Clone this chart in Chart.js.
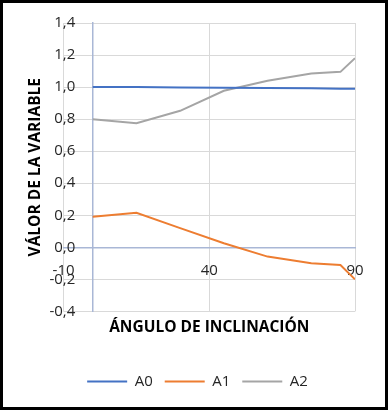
<!DOCTYPE html>
<html>
<head>
<meta charset="utf-8">
<script src="https://cdn.jsdelivr.net/npm/chart.js@4.4.0/dist/chart.umd.min.js"></script>
<style>
    html, body { margin: 0; padding: 0; background: #fff; }
    #frame {
        width: 388px;
        height: 410px;
        box-sizing: border-box;
        border: 3px solid #000;
        position: relative;
    }
</style>
</head>
<body>
<div id="frame"><canvas id="angleChart"></canvas></div>
<script>
// angle (x) values and the three series
const angles = [0, 15, 30, 45, 60, 75, 85, 90];
const a0 = [1.0, 1.0, 0.998, 0.996, 0.994, 0.992, 0.99, 0.989];
const a1 = [0.19, 0.215, 0.12, 0.025, -0.058, -0.10, -0.11, -0.20];
const a2 = [0.80, 0.775, 0.852, 0.977, 1.04, 1.085, 1.095, 1.18];

const xTicks = [-10, 40, 90];
const yTicks = [-0.4, -0.2, 0, 0.2, 0.4, 0.6, 0.8, 1.0, 1.2, 1.4];

const seriesNames = ['A0', 'A1', 'A2'];
const seriesColors = ['#4472C4', '#ED7D31', '#A5A5A5'];

function toPoints(values) {
    return angles.map((x, i) => ({ x: x, y: values[i] }));
}

function formatComma(v) {
    if (Math.abs(v) < 1e-9) v = 0;
    return v.toFixed(1).replace('.', ',');
}

const axisLine = '#A9B7D6';
const gridLine = '#D9D9D9';
const tickFont = { family: 'Open Sans', size: 15 };
const titleFont = { family: 'Open Sans', size: 15.5, weight: 'bold' };

const canvas = document.getElementById('angleChart');

new Chart(canvas, {
    type: 'line',
    data: {
        datasets: [a0, a1, a2].map((values, i) => ({
            label: seriesNames[i],
            data: toPoints(values),
            borderColor: seriesColors[i],
            backgroundColor: seriesColors[i],
            borderWidth: 2,
            pointRadius: 0,
            tension: 0,
            fill: false
        }))
    },
    options: {
        responsive: true,
        maintainAspectRatio: false,
        animation: false,
        layout: {
            padding: { left: 7, top: 20, right: 0, bottom: 8 }
        },
        scales: {
            x: {
                type: 'linear',
                position: { y: 0 },
                min: -10,
                max: 90,
                afterBuildTicks: (scale) => {
                    scale.ticks = xTicks.map(v => ({ value: v }));
                },
                grid: { color: gridLine, drawTicks: false },
                border: { color: axisLine, width: 1.5 },
                ticks: {
                    font: tickFont,
                    color: '#262626',
                    padding: 14,
                    maxRotation: 0
                }
            },
            // vertical axis line at x = 0 with the horizontal gridlines
            y: {
                type: 'linear',
                position: { x: 0 },
                min: -0.4,
                max: 1.4,
                afterBuildTicks: (scale) => {
                    scale.ticks = yTicks.map(v => ({ value: v }));
                },
                grid: { color: gridLine, drawTicks: false },
                border: { color: axisLine, width: 1.5 },
                ticks: { display: false, padding: 0 }
            },
            // tick labels sit a little left of the x = 0 axis, as in Excel
            yLabels: {
                type: 'linear',
                axis: 'y',
                position: { x: -6 },
                min: -0.4,
                max: 1.4,
                afterBuildTicks: (scale) => {
                    scale.ticks = yTicks.map(v => ({ value: v }));
                },
                grid: { display: false },
                border: { display: false },
                ticks: {
                    font: tickFont,
                    color: '#262626',
                    padding: 0,
                    callback: (v) => formatComma(v)
                }
            },
            // empty right gutter
            gutter: {
                type: 'linear',
                axis: 'y',
                position: 'right',
                grid: { display: false },
                border: { display: false },
                ticks: { display: false },
                afterFit: (scale) => {
                    scale.width = 30;
                }
            }
        },
        plugins: {
            title: {
                display: true,
                position: 'left',
                fullSize: false,
                text: 'VÁLOR DE LA VARIABLE',
                color: '#000',
                font: titleFont,
                padding: { top: 16, bottom: 19 }
            },
            subtitle: {
                display: true,
                position: 'bottom',
                fullSize: false,
                text: 'ÁNGULO DE INCLINACIÓN',
                color: '#000',
                font: titleFont,
                padding: { top: 7, bottom: 25 }
            },
            legend: {
                position: 'bottom',
                weight: 3000,
                labels: {
                    usePointStyle: true,
                    pointStyle: 'line',
                    pointStyleWidth: 40,
                    boxHeight: 15,
                    padding: 12,
                    color: '#262626',
                    font: tickFont
                }
            },
            tooltip: { enabled: false }
        }
    }
});
</script>
</body>
</html>
